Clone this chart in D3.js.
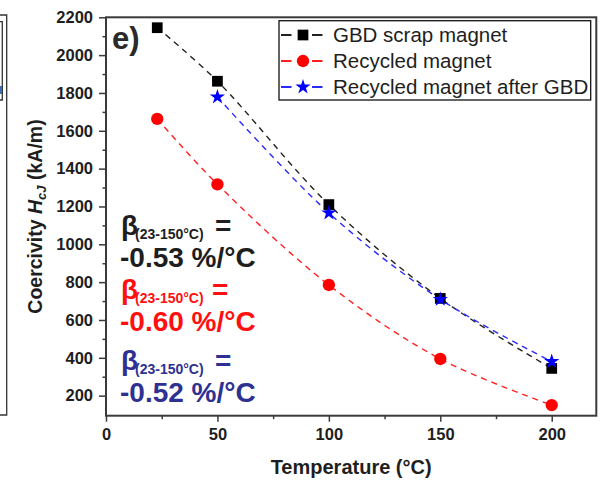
<!DOCTYPE html>
<html>
<head>
<meta charset="utf-8">
<script src="https://cdn.jsdelivr.net/npm/d3@7"></script>
<style>
  html, body { margin: 0; padding: 0; background: #fff; }
  svg { display: block; font-family: "Liberation Sans", Arial, sans-serif; }
</style>
</head>
<body>
<svg id="chart" width="601" height="482"></svg>
<script>
// ---- data ----
const temps = [23, 50, 100, 150, 200];
const tempsGBD = [50, 100, 150, 200];
const scrapValues = [2145, 1862, 1210, 714, 344];
const recycledValues = [1663, 1317, 785, 394, 150];
const recycledGBDValues = [1779, 1166, 709, 380];
const seriesNames = ["GBD scrap magnet", "Recycled magnet", "Recycled magnet after GBD"];
const xTicks = [0, 50, 100, 150, 200];
const yTicks = [200, 400, 600, 800, 1000, 1200, 1400, 1600, 1800, 2000, 2200];
const betaLabels = ["-0.53 %/°C", "-0.60 %/°C", "-0.52 %/°C"];

(function () {
const svg = d3.select("#chart");
const axisColor = "#3a3a3a";
const textDark = "#1e1e1e";
const pL = 106, pR = 596.3, pT = 17.3, pB = 415.7;

const x = d3.scaleLinear().domain([0, 220]).range([pL, pR]);
const y = d3.scaleLinear().domain([94, 2200]).range([pB, pT]);

// ---- fragment of neighbouring panel at left edge ----
const frag = svg.append("g").attr("fill", "none").attr("stroke", "#333").attr("stroke-width", 1.3);
frag.append("path").attr("d", "M0,15H6.7V415H0");
frag.append("path").attr("d", "M0,21.7H2.3V100H0");
svg.append("rect").attr("x", 0).attr("y", 86).attr("width", 2).attr("height", 8).attr("fill", "#3a6fb0");

// ---- series ----
const series = [
  { name: seriesNames[0], xs: temps, ys: scrapValues, color: "#000000", line: "#222", symbol: d3.symbolSquare, size: 115 },
  { name: seriesNames[1], xs: temps, ys: recycledValues, color: "#ff0000", line: "#ff2020", symbol: d3.symbolCircle, size: 120 },
  { name: seriesNames[2], xs: tempsGBD, ys: recycledGBDValues, color: "#0000ff", line: "#2a2aff", symbol: d3.symbolStar, size: 72 }
];

const lineGen = d3.line().x(d => x(d[0])).y(d => y(d[1])).curve(d3.curveCatmullRom.alpha(0.5));

series.forEach(s => {
  const pts = s.xs.map((t, i) => [t, s.ys[i]]);
  svg.append("path")
    .attr("d", lineGen(pts))
    .attr("fill", "none")
    .attr("stroke", s.line)
    .attr("stroke-width", 1.4)
    .attr("stroke-dasharray", "6,5");
});
series.forEach(s => {
  const pts = s.xs.map((t, i) => [t, s.ys[i]]);
  svg.append("g").selectAll("path").data(pts).join("path")
    .attr("d", d3.symbol().type(s.symbol).size(s.size))
    .attr("transform", d => `translate(${x(d[0])},${y(d[1])})`)
    .attr("fill", s.color);
});

// ---- axes ----
const xAxis = svg.append("g").attr("transform", `translate(0,${pB})`)
  .call(d3.axisBottom(x).tickValues(xTicks).tickSize(6).tickPadding(7).tickFormat(d3.format("d")));
svg.append("g").attr("transform", `translate(0,${pB})`)
  .call(d3.axisBottom(x).tickValues([25, 75, 125, 175]).tickSize(3.5).tickFormat(""));
const yAxis = svg.append("g").attr("transform", `translate(${pL},0)`)
  .call(d3.axisLeft(y).tickValues(yTicks).tickSize(7).tickPadding(6).tickFormat(d3.format("d")));
svg.append("g").attr("transform", `translate(${pL},0)`)
  .call(d3.axisLeft(y).tickValues(d3.range(300, 2200, 200)).tickSize(3.5).tickFormat(""));

svg.selectAll(".tick line").attr("stroke", axisColor).attr("stroke-width", 1.5);
svg.selectAll(".domain").remove();
[xAxis, yAxis].forEach(g => g.selectAll("text")
  .attr("font-size", 16.5).attr("font-weight", "bold").attr("fill", textDark)
  .attr("font-family", "'Liberation Sans', Arial, sans-serif"));

// frame
svg.append("rect").attr("x", pL).attr("y", pT).attr("width", pR - pL).attr("height", pB - pT)
  .attr("fill", "none").attr("stroke", axisColor).attr("stroke-width", 2);

// ---- axis titles ----
svg.append("text").attr("x", (pL + pR) / 2).attr("y", 474)
  .attr("text-anchor", "middle").attr("font-size", 20).attr("font-weight", "bold").attr("fill", textDark)
  .text("Temperature (°C)");

const yt = svg.append("text")
  .attr("transform", `translate(42,${(pT + pB) / 2}) rotate(-90)`)
  .attr("text-anchor", "middle").attr("font-size", 19.5).attr("font-weight", "bold").attr("fill", textDark);
yt.append("tspan").text("Coercivity ");
yt.append("tspan").attr("font-style", "italic").text("H");
yt.append("tspan").attr("font-style", "italic").attr("font-size", 13).attr("dy", 4).text("cJ");
yt.append("tspan").attr("dy", -4).text(" (kA/m)");

// ---- panel label ----
svg.append("text").attr("x", 112).attr("y", 49).attr("font-size", 31).attr("font-weight", "bold")
  .attr("fill", "#2a2a2a").text("e)");

// ---- beta annotations ----
const betaColors = ["#1e1e1e", "#ff1010", "#2e3192"];
const betaBase = [235, 299, 370];
const betaEqX = [215, 212, 215];
betaLabels.forEach((lab, i) => {
  const g = svg.append("g").attr("fill", betaColors[i]).attr("font-weight", "bold");
  g.append("text").attr("x", 121).attr("y", betaBase[i]).attr("font-size", 28).text("β");
  g.append("text").attr("x", 135).attr("y", betaBase[i] + 4).attr("font-size", 14).text("(23-150°C)");
  g.append("text").attr("x", betaEqX[i]).attr("y", betaBase[i]).attr("font-size", 28).text("=");
  g.append("text").attr("x", 120).attr("y", betaBase[i] + 31.5).attr("font-size", 28).text(lab);
});

// ---- legend ----
const lg = svg.append("g");
lg.append("rect").attr("x", 279).attr("y", 20.7).attr("width", 311.7).attr("height", 79.3)
  .attr("fill", "#fff").attr("stroke", "#111").attr("stroke-width", 1.3);
series.forEach((s, i) => {
  const cy = 35 + i * 26;
  lg.append("line").attr("x1", 281).attr("x2", 322.5).attr("y1", cy).attr("y2", cy)
    .attr("stroke", s.line).attr("stroke-width", 1.8).attr("stroke-dasharray", "10.5,20.5");
  lg.append("path").attr("d", d3.symbol().type(s.symbol).size(s.size)())
    .attr("transform", `translate(303,${cy})`).attr("fill", s.color);
  lg.append("text").attr("x", 333).attr("y", cy + 7).attr("font-size", 20.5).attr("fill", textDark).text(s.name);
});
})();
</script>
</body>
</html>
